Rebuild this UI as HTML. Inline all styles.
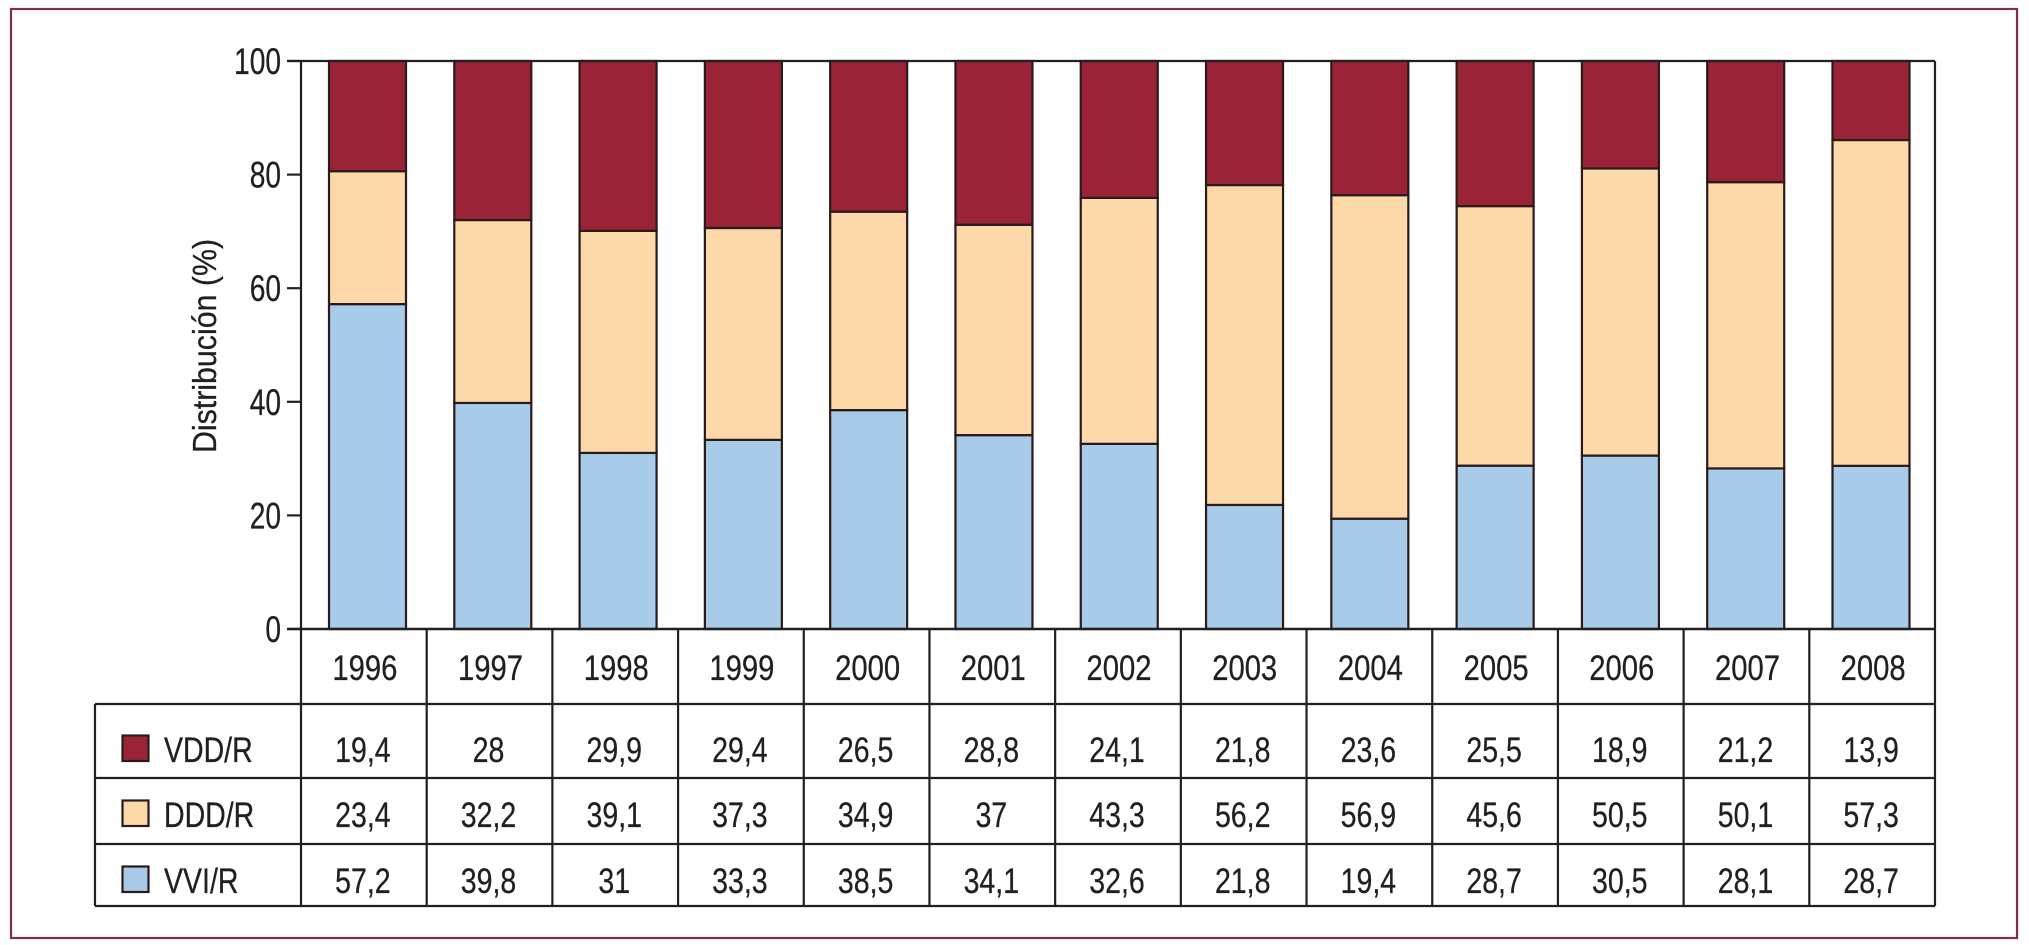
<!DOCTYPE html>
<html lang="es">
<head>
<meta charset="utf-8">
<title>Distribución (%) 1996-2008</title>
<style>
html,body{margin:0;padding:0;background:#fff;width:2029px;height:945px;overflow:hidden}
svg{display:block}
text{font-family:"Liberation Sans",Arial,sans-serif;fill:#231f20;stroke:#231f20;stroke-width:0.3px}
</style>
</head>
<body>
<svg id="chart" xmlns="http://www.w3.org/2000/svg" width="2029" height="945" viewBox="0 0 2029 945">
  <rect x="11" y="9" width="2006" height="929" fill="none" stroke="#7f3042" stroke-width="2.2"/>
  <g id="bars"></g>
  <g id="axis"></g>
  <g id="table"></g>
</svg>
<script>
const years = ["1996","1997","1998","1999","2000","2001","2002","2003","2004","2005","2006","2007","2008"];
const vddValues = [19.4,28,29.9,29.4,26.5,28.8,24.1,21.8,23.6,25.5,18.9,21.2,13.9];
const dddValues = [23.4,32.2,39.1,37.3,34.9,37,43.3,56.2,56.9,45.6,50.5,50.1,57.3];
const vviValues = [57.2,39.8,31,33.3,38.5,34.1,32.6,21.8,19.4,28.7,30.5,28.1,28.7];
const yTicks = [0,20,40,60,80,100];
const seriesNames = ["VDD/R","DDD/R","VVI/R"];

const NS = "http://www.w3.org/2000/svg";
const INK = "#231f20";
const COLORS = {"VDD/R":"#9a2338","DDD/R":"#fdd9a9","VVI/R":"#a9cbea"};
const plot = {left:301,right:1935,top:61,bottom:629};
const rows = {tableLeft:95,lines:[704,778,844,906],baselines:[762,827,893],yearBase:680};
const n = years.length;

function y(v){ return plot.bottom - (v/100)*(plot.bottom-plot.top); }
function colEdge(i){ return plot.left + i*(plot.right-plot.left)/n; }
function colCenter(i){ return (colEdge(i)+colEdge(i+1))/2; }
function barCenter(i){ return 367.5 + i*(1871-367.5)/(n-1); }
const barWidth = 77;

function make(tag, attrs, parent){
  const el = document.createElementNS(NS, tag);
  for (const k in attrs) el.setAttribute(k, attrs[k]);
  parent.appendChild(el);
  return el;
}
function label(str, px, py, size, sx, anchor, parent){
  const el = make("text", {transform:"translate("+px+","+py+") scale("+sx+",1)", "font-size":size, "text-anchor":anchor}, parent);
  el.textContent = str;
  return el;
}

const barsG = document.getElementById("bars");
const axisG = document.getElementById("axis");
const tableG = document.getElementById("table");

/* bars */
years.forEach(function(yr, i){
  const total = vviValues[i] + dddValues[i] + vddValues[i];
  const stack = [["vvi",vviValues[i],"VVI/R"],["ddd",dddValues[i],"DDD/R"],["vdd",vddValues[i],"VDD/R"]];
  let acc = 0;
  stack.forEach(function(s){
    const share = s[1]/total*100;
    const top = y(acc+share);
    const bottom = y(acc);
    const r = make("rect", {x:barCenter(i)-barWidth/2, y:top, width:barWidth, height:bottom-top, fill:COLORS[s[2]], stroke:"#2a1a1a", "stroke-width":2.2}, barsG);
    
    
    acc += share;
  });
});

/* axis */
const axisLeft = make("line", {x1:plot.left,y1:plot.top,x2:plot.left,y2:plot.bottom,stroke:INK,"stroke-width":2.2}, axisG);


const axisRight = make("line", {x1:plot.right,y1:plot.top,x2:plot.right,y2:plot.bottom,stroke:INK,"stroke-width":2.2}, axisG);


const axisTop = make("line", {x1:287,y1:plot.top,x2:plot.right,y2:plot.top,stroke:INK,"stroke-width":2.2}, axisG);


yTicks.forEach(function(t){
  const tick = make("line", {x1:287,y1:y(t),x2:plot.left,y2:y(t),stroke:INK,"stroke-width":2.2}, axisG);
  
  
  const lab = label(String(t), 281, y(t)+13, 37, 0.76, "end", axisG);
  
  
});
const yTitle = make("text", {transform:"translate(216,346) rotate(-90) scale(0.92,1)","font-size":33,"text-anchor":"middle"}, axisG);
yTitle.textContent = "Distribución (%)";



/* table grid */
const xAxisLine = make("line", {x1:287,y1:plot.bottom,x2:plot.right,y2:plot.bottom,stroke:INK,"stroke-width":2.4}, tableG);


rows.lines.forEach(function(ly, k){
  const h = make("line", {x1:rows.tableLeft,y1:ly,x2:plot.right,y2:ly,stroke:INK,"stroke-width":2.2}, tableG);
  
  
});
const tableLeftLine = make("line", {x1:rows.tableLeft,y1:rows.lines[0],x2:rows.tableLeft,y2:rows.lines[3],stroke:INK,"stroke-width":2.2}, tableG);


for (let c = 0; c <= n; c++){
  const v = make("line", {x1:colEdge(c),y1:plot.bottom,x2:colEdge(c),y2:rows.lines[3],stroke:INK,"stroke-width":2.2}, tableG);
  
  
}

/* year headers and values */
years.forEach(function(yr, i){
  const t = label(yr, colCenter(i)+1, rows.yearBase, 35, 0.835, "middle", tableG);
  
  
});
const tableSeries = [vddValues, dddValues, vviValues];
tableSeries.forEach(function(arr, r){
  arr.forEach(function(v, i){
    const t = label(String(v).replace(".", ","), colCenter(i)-1, rows.baselines[r], 35, 0.815, "middle", tableG);
    
    
  });
});

/* legend */
seriesNames.forEach(function(name, r){
  const sw = make("rect", {x:122.5,y:rows.baselines[r]-26.5,width:26,height:25.5,fill:COLORS[name],stroke:"#2a1a1a","stroke-width":2.2}, tableG);
  
  
  const t = label(name, 164, rows.baselines[r], 35, 0.815, "start", tableG);
  
  
});
</script>
</body>
</html>
